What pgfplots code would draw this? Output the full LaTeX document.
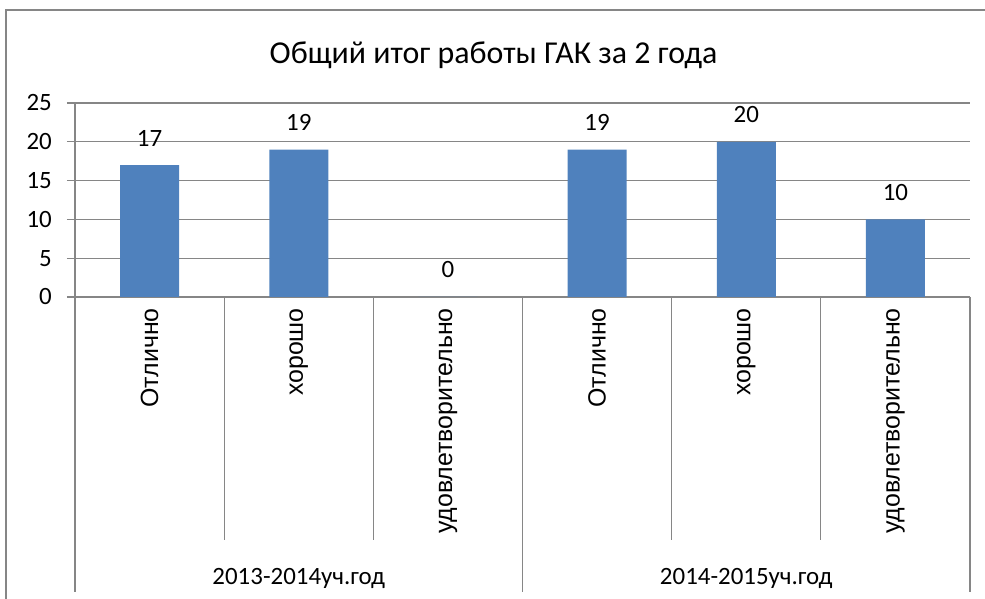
\documentclass[border=0pt]{standalone}
\usepackage{fontspec}
\setmainfont{Carlito}
\newfontfamily\arialfont{Liberation Sans}
\usepackage{pgfplots}
\pgfplotsset{compat=1.18}
\definecolor{barblue}{RGB}{79,129,189}
\definecolor{gridgray}{RGB}{134,134,134}
\begin{document}
\begin{tikzpicture}[x=1bp,y=1bp]
\useasboundingbox (0,0) rectangle (985,599);
% outer chart border
\begin{scope}
\clip (0,0) rectangle (985,599);
\draw[gridgray, line width=1.3bp] (6,-10) -- (6,589) -- (1000,589);
\end{scope}
\node[anchor=base, font=\fontsize{32}{38}\selectfont] at (493.5,535) {Общий итог работы ГАК за 2 года};
\begin{axis}[
  at={(75bp,302bp)}, anchor=south west,
  scale only axis, width=895bp, height=194bp,
  xmin=-0.5, xmax=5.5, ymin=0, ymax=25,
  ytick={0,5,10,15,20,25},
  xtick={0,1,2,3,4,5},
  xticklabels={Отлично,хорошо,удовлетворительно,Отлично,хорошо,удовлетворительно},
  axis x line*=bottom, axis y line*=left,
  ymajorgrids,
  grid style={draw=gridgray, line width=1.1bp},
  axis line style={draw=gridgray, line width=1.1bp},
  tick align=outside, major tick length=8bp,
  ytick style={draw=gridgray, line width=1.1bp},
  xtick style={draw=none},
  /pgf/number format/assume math mode=true,
  yticklabel style={anchor=east, inner sep=0pt, xshift=-15bp, font=\fontsize{25}{30}\selectfont},
  xticklabel style={rotate=90, anchor=east, inner sep=0pt, font=\arialfont\fontsize{25}{30}\selectfont},
  xticklabel shift=3bp,
  ybar, bar width=59bp,
  nodes near coords,
  every node near coord/.append style={anchor=center, yshift=27bp, inner sep=0pt, font=\fontsize{25}{30}\selectfont, text=black},
  clip=false,
]
\addplot[fill=barblue, draw=none] coordinates {(0,17) (1,19) (2,0) (3,19) (4,20) (5,10)};
% category separators
\pgfplotsinvokeforeach{0.5,1.5,3.5,4.5}{
  \draw[gridgray, line width=1.1bp] (axis cs:#1,0) -- ++(0bp,-243bp);
}
\pgfplotsinvokeforeach{-0.5,2.5,5.5}{
  \draw[gridgray, line width=1.1bp] (axis cs:#1,0) -- ++(0bp,-295bp);
}
\node[anchor=base, font=\fontsize{25}{30}\selectfont] at ([yshift=-288bp]axis cs:1,0) {2013-2014уч.год};
\node[anchor=base, font=\fontsize{25}{30}\selectfont] at ([yshift=-288bp]axis cs:4,0) {2014-2015уч.год};
\end{axis}
\end{tikzpicture}
\end{document}
